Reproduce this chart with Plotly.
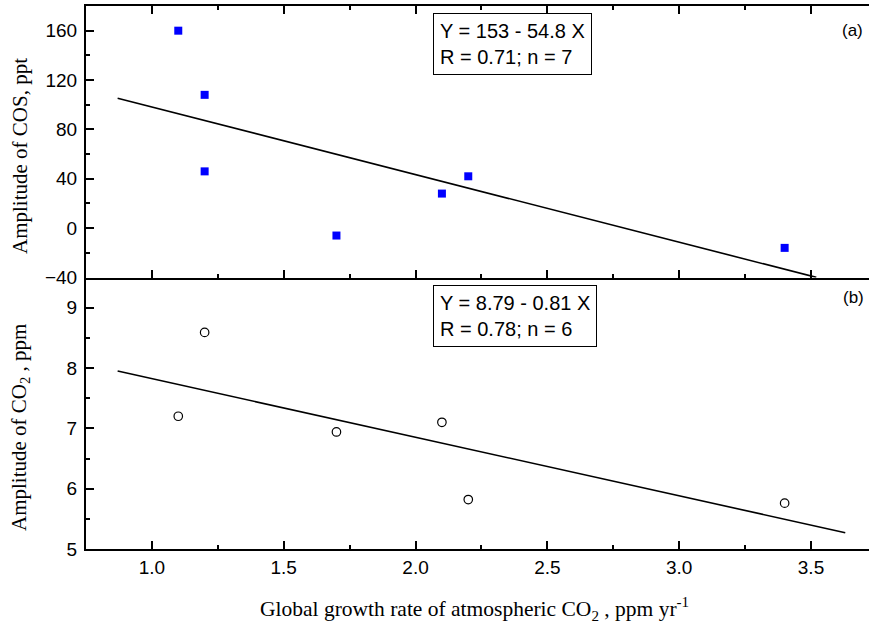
import plotly.graph_objects as go

# Annual growth rate of atmospheric CO2 (ppm/yr) vs seasonal amplitudes
growth_cos = [1.1, 1.2, 1.2, 1.7, 2.1, 2.2, 3.4]
amp_cos = [160, 108, 46, -6, 28, 42, -16]

growth_co2 = [1.1, 1.2, 1.7, 2.1, 2.2, 3.4]
amp_co2 = [7.20, 8.59, 6.94, 7.10, 5.82, 5.76]

# Linear fits
cos_intercept, cos_slope = 153.0, -54.8
fit_cos_x = [0.87, 3.52]
fit_cos_y = [cos_intercept + cos_slope * x for x in fit_cos_x]

fit_co2_x = [0.87, 3.63]
fit_co2_y = [7.95, 5.27]

x_ticks = [1.0, 1.5, 2.0, 2.5, 3.0, 3.5]
cos_ticks = [-40, 0, 40, 80, 120, 160]
co2_ticks = [5, 6, 7, 8, 9]

W, H = 869, 627
L, R, T, B = 86, 0, 6, 78

SANS = "Liberation Sans, Arial, sans-serif"
SERIF = "Liberation Serif, Times New Roman, serif"

fig = go.Figure()

# (b) bottom panel: CO2 amplitude
fig.add_trace(go.Scatter(
    x=growth_co2, y=amp_co2, mode="markers", xaxis="x", yaxis="y",
    marker=dict(symbol="circle-open", size=8.5, color="black", line=dict(width=1.2)),
    showlegend=False, cliponaxis=False))
fig.add_trace(go.Scatter(
    x=fit_co2_x, y=fit_co2_y, mode="lines", xaxis="x", yaxis="y",
    line=dict(color="black", width=1.6), showlegend=False))

# (a) top panel: COS amplitude
fig.add_trace(go.Scatter(
    x=growth_cos, y=amp_cos, mode="markers", xaxis="x2", yaxis="y2",
    marker=dict(symbol="square", size=8, color="#0000ff", line=dict(width=0)),
    showlegend=False, cliponaxis=False))
fig.add_trace(go.Scatter(
    x=fit_cos_x, y=fit_cos_y, mode="lines", xaxis="x2", yaxis="y2",
    line=dict(color="black", width=1.6), showlegend=False))

axis_common = dict(
    showgrid=False, zeroline=False, showline=True, linecolor="black", linewidth=2,
    ticks="inside", ticklen=8, tickwidth=1.5, tickcolor="black",
    tickfont=dict(family=SANS, size=19, color="black"),
)
minor_x = dict(ticks="inside", ticklen=4, tickwidth=1.5, tickcolor="black", dtick=0.25)

xr = [0.75, 3.72]

fig.update_layout(
    width=W, height=H,
    margin=dict(l=L, r=R, t=T, b=B),
    paper_bgcolor="white", plot_bgcolor="white",
    xaxis=dict(
        **axis_common, domain=[0, 1], anchor="y", range=xr,
        tickvals=x_ticks, ticktext=[f"{v:.1f}" for v in x_ticks],
        minor=minor_x, ticklabelstandoff=0,
    ),
    yaxis=dict(
        **axis_common, domain=[0, 0.5], anchor="x", range=[5, 9.5],
        tickvals=co2_ticks, minor=dict(ticks="inside", ticklen=4, tickwidth=1.5,
                                        tickcolor="black", dtick=0.5),
        ticklabelstandoff=3,
    ),
    xaxis2=dict(
        **axis_common, domain=[0, 1], anchor="y2", range=xr, matches="x",
        tickvals=x_ticks, showticklabels=False, minor=minor_x, mirror="ticks",
    ),
    yaxis2=dict(
        **axis_common, domain=[0.5, 1], anchor="x2", range=[-40, 180],
        tickvals=cos_ticks, minor=dict(ticks="inside", ticklen=4, tickwidth=1.5,
                                        tickcolor="black", dtick=20),
        ticklabelstandoff=3,
    ),
)


def px_x(p):
    return (p - L) / (W - L - R)


def px_y(p):
    return (H - B - p) / (H - T - B)


# Axis titles
title_font = dict(family=SERIF, size=21, color="black")
fig.add_annotation(
    xref="paper", yref="paper", x=px_x(20), y=px_y(156), xanchor="center", yanchor="middle",
    text="Amplitude of COS, ppt", textangle=-90, showarrow=False, font=title_font)
fig.add_annotation(
    xref="paper", yref="paper", x=px_x(20), y=px_y(428), xanchor="center", yanchor="middle",
    text="Amplitude of CO<sub>2</sub> , ppm", textangle=-90, showarrow=False, font=title_font)
fig.add_annotation(
    xref="paper", yref="paper", x=px_x(474), y=px_y(609), xanchor="center", yanchor="middle",
    text="Global growth rate of atmospheric CO<sub>2</sub> , ppm yr<sup>-1</sup>",
    showarrow=False, font=dict(family=SERIF, size=21.5, color="black"))

box_font = dict(family=SANS, size=20, color="black")
fig.add_annotation(
    xref="paper", yref="paper", x=px_x(433), y=px_y(13), xanchor="left", yanchor="top",
    text="Y = 153 - 54.8 X<br>R = 0.71; n = 7", align="left", showarrow=False,
    font=box_font, bordercolor="black", borderwidth=1, borderpad=6, bgcolor="white")
fig.add_annotation(
    xref="paper", yref="paper", x=px_x(433), y=px_y(285), xanchor="left", yanchor="top",
    text="Y = 8.79 - 0.81 X<br>R = 0.78; n = 6", align="left", showarrow=False,
    font=box_font, bordercolor="black", borderwidth=1, borderpad=6, bgcolor="white")

label_font = dict(family=SANS, size=17, color="black")
fig.add_annotation(xref="paper", yref="paper", x=px_x(865), y=px_y(30),
                   xanchor="right", yanchor="middle", text="(a)", showarrow=False,
                   font=label_font)
fig.add_annotation(xref="paper", yref="paper", x=px_x(866), y=px_y(297),
                   xanchor="right", yanchor="middle", text="(b)", showarrow=False,
                   font=label_font)

fig.write_html("out.html")
